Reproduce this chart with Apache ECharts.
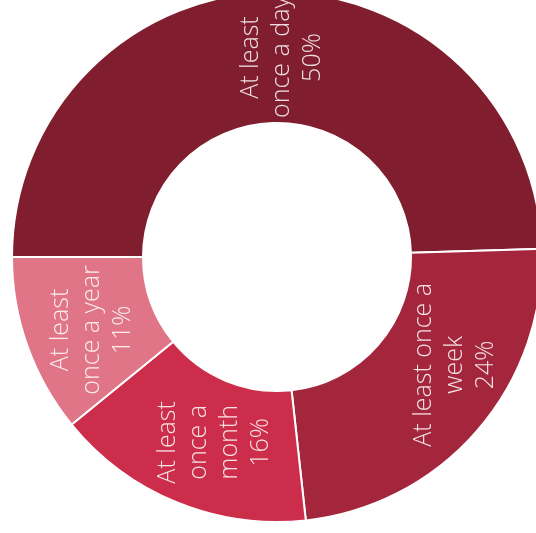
<!DOCTYPE html>
<html>
<head>
<meta charset="utf-8">
<script src="https://cdn.jsdelivr.net/npm/echarts@6/dist/echarts.min.js"></script>
<style>
  html, body { margin: 0; padding: 0; background: #ffffff; }
  #chart { width: 536px; height: 533px; }
</style>
</head>
<body>
<div id="chart"></div>
<script>
// Frequency categories and their shares (percent)
const categories = ['At least once a day', 'At least once a week', 'At least once a month', 'At least once a year'];
const shares = [50, 24, 16, 11];
// Wrapped label text per slice
const labelTexts = [
  'At least\nonce a day\n50%',
  'At least once a\nweek\n24%',
  'At least\nonce a\nmonth\n16%',
  'At least\nonce a year\n11%'
];
const sliceColors = ['#801e2f', '#a4263d', '#cc2d4a', '#e07587'];
// Small per-slice nudges of the label block, in screen pixels (right, down)
const labelNudgeX = [8, 25, 14, 6];
const labelNudgeY = [3, -25, -2, 5];

const chart = echarts.init(document.getElementById('chart'), null, { renderer: 'canvas' });

const data = categories.map((name, i) => ({
  name: name,
  value: shares[i],
  itemStyle: { color: sliceColors[i] },
  label: { formatter: labelTexts[i] }
}));

chart.setOption({
  animation: false,
  series: [{
    type: 'pie',
    center: [277, 257],
    radius: [134, 265],
    startAngle: 180,
    clockwise: true,
    avoidLabelOverlap: false,
    itemStyle: { borderColor: '#ffffff', borderWidth: 2 },
    label: {
      show: true,
      position: 'inside',
      rotate: 90,
      color: 'rgba(255,255,255,0.86)',
      fontFamily: 'Open Sans',
      fontWeight: 300,
      fontSize: 25,
      lineHeight: 31,
      align: 'center',
      overflow: 'none'
    },
    // Labels are turned 90 degrees, so local offsets map as: dx -> up, dy -> right
    labelLayout: function (params) {
      const i = params.dataIndex;
      return { dx: -labelNudgeY[i], dy: labelNudgeX[i] };
    },
    labelLine: { show: false },
    data: data
  }]
});
</script>
</body>
</html>
